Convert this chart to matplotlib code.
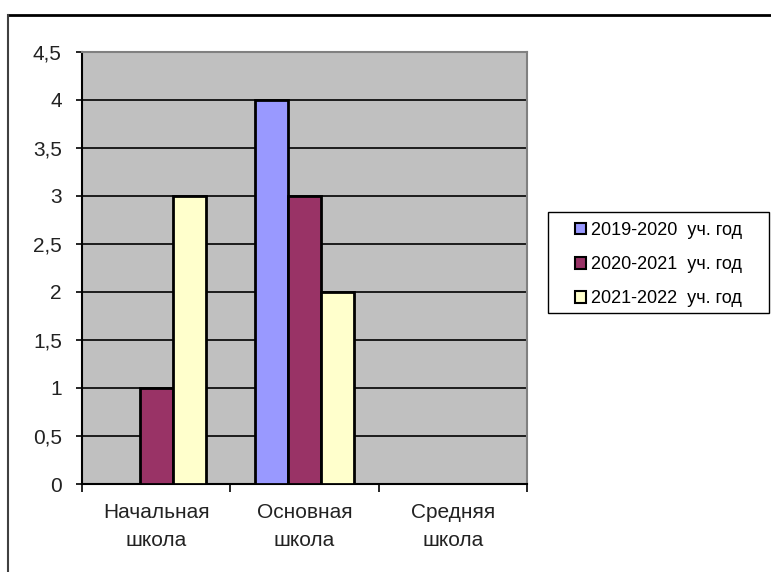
import numpy as np
import matplotlib.pyplot as plt
from matplotlib.lines import Line2D
from matplotlib.patches import Rectangle

# === Data ===
categories = ["Начальная\nшкола", "Основная\nшкола", "Средняя\nшкола"]
series_names = ["2019-2020  уч. год", "2020-2021  уч. год", "2021-2022  уч. год"]
values_2019 = [0, 4, 0]
values_2020 = [1, 3, 0]
values_2021 = [3, 2, 0]
colors = ["#9999FF", "#993366", "#FFFFCC"]
y_ticks = [0, 0.5, 1, 1.5, 2, 2.5, 3, 3.5, 4, 4.5]
y_labels = ["0", "0,5", "1", "1,5", "2", "2,5", "3", "3,5", "4", "4,5"]

plt.rcParams['font.family'] = ['Liberation Sans', 'DejaVu Sans']

W, H = 771, 572
fig = plt.figure(figsize=(W / 100, H / 100), dpi=100)
ax = fig.add_axes([82 / W, 1 - 484 / H, (527 - 82) / W, (484 - 51.5) / H])
ax.set_facecolor("#C0C0C0")

x = np.arange(len(categories))
width = 33 / 148
all_vals = [values_2019, values_2020, values_2021]
handles = []
for i, (vals, name, c) in enumerate(zip(all_vals, series_names, colors)):
    v = np.array(vals, dtype=float)
    mask = v > 0
    ax.bar(x[mask] + (i - 1) * width, v[mask], width, color=c,
           edgecolor="black", linewidth=2, zorder=3)
    handles.append(Rectangle((0, 0), 1, 1, facecolor=c, edgecolor="black", linewidth=1.5))

ax.set_xlim(-0.5, len(categories) - 0.5)
ax.set_ylim(0, 4.5)
ax.set_yticks(y_ticks)
ax.set_yticklabels(y_labels, fontsize=15)
ax.yaxis.grid(True, color="black", linewidth=1.2, zorder=0)
ax.set_axisbelow(True)

# category ticks at boundaries, labels centered
ax.set_xticks(np.arange(len(categories) + 1) - 0.5)
ax.set_xticklabels([])
ax.set_xticks(x, minor=True)
ax.set_xticklabels(categories, minor=True, fontsize=15, color="#222222", linespacing=1.55)
ax.tick_params(axis="x", which="minor", length=0, pad=14)
ax.tick_params(axis="x", which="major", direction="out", length=5.5, width=1.2)
ax.tick_params(axis="y", direction="out", length=4.5, width=1.2, pad=10, labelcolor="#222222")

for s in ["left", "bottom"]:
    ax.spines[s].set_color("black")
    ax.spines[s].set_linewidth(1.5)
for s in ["top", "right"]:
    ax.spines[s].set_color("#808080")
    ax.spines[s].set_linewidth(1.5)

# legend frame drawn separately, legend itself frameless
fig.add_artist(Rectangle((548 / W, 1 - 313 / H), (769 - 548) / W, (313 - 212) / H,
                         transform=fig.transFigure, facecolor="white",
                         edgecolor="black", linewidth=1.0))
fig.legend(handles, series_names, loc="upper left",
           bbox_to_anchor=(575 / W, 1 - 222 / H), fontsize=13,
           frameon=False, handlelength=0.6, handleheight=0.6, handletextpad=0.3,
           labelspacing=0.95, borderpad=0, borderaxespad=0)

# outer chart frame
fig.add_artist(Line2D([8 / W, 1], [1 - 15 / H, 1 - 15 / H], color="black", linewidth=2))
fig.add_artist(Line2D([8 / W, 8 / W], [0, 1 - 15 / H], color="#404040", linewidth=1.5))

fig.savefig("out.png", dpi=100)
